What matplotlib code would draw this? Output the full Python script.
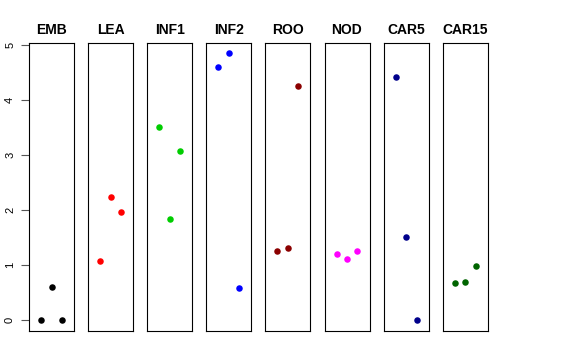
import matplotlib
matplotlib.use("Agg")
import matplotlib.pyplot as plt

plt.rcParams['font.family'] = ['Liberation Sans', 'DejaVu Sans']

tissues = ["EMB", "LEA", "INF1", "INF2", "ROO", "NOD", "CAR5", "CAR15"]
colors = ["black", "#FF0000", "#00CD00", "#0000FF", "#8B0000", "#FF00FF", "#00008B", "#006400"]
reps = [1, 2, 3]

emb = [0.0, 0.60, 0.0]
lea = [1.08, 2.24, 1.96]
inf1 = [3.50, 1.83, 3.08]
inf2 = [4.60, 4.84, 0.59]
roo = [1.25, 1.32, 4.25]
nod = [1.20, 1.12, 1.26]
car5 = [4.41, 1.52, 0.0]
car15 = [0.68, 0.70, 0.99]
values = [emb, lea, inf1, inf2, roo, nod, car5, car15]

W, H = 576, 360
fig = plt.figure(figsize=(W / 100, H / 100), dpi=100)

for i, (name, col, vals) in enumerate(zip(tissues, colors, values)):
    left = 29 + 59.1 * i
    ax = fig.add_axes([left / W, (H - 331) / H, 45 / W, (331 - 43.3) / H])
    ax.scatter(reps, vals, s=22, color=col, zorder=3, linewidths=0)
    ax.set_xlim(-0.16, 4.16)
    ax.set_ylim(-0.194, 5.025)
    ax.set_xticks([])
    for sp in ax.spines.values():
        sp.set_linewidth(0.8)
    ax.set_title(name, fontsize=10, fontweight='bold', pad=6.5)
    if i == 0:
        ax.set_yticks([0, 1, 2, 3, 4, 5])
        ax.tick_params(axis='y', length=6, width=0.8, labelsize=8, pad=4,
                       color='#555555')
        for lab in ax.get_yticklabels():
            lab.set_rotation(90)
            lab.set_va('center')
    else:
        ax.set_yticks([])

fig.savefig("out.png", dpi=100)
